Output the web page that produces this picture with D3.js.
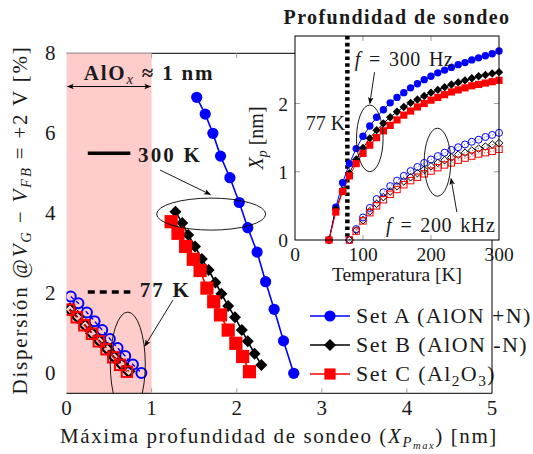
<!DOCTYPE html>
<html>
<head>
<meta charset="utf-8">
<script src="https://cdn.jsdelivr.net/npm/d3@7"></script>
<style>
  body { margin: 0; background: #fff; }
  text { font-family: "Liberation Serif", serif; fill: #1a1a1a; }
</style>
</head>
<body>
<div id="chart"></div>
<script>
// main plot: x = max probing depth [nm], y = dispersion [%]
var setA300 = [[1.53,6.90],[1.63,6.48],[1.72,6.00],[1.81,5.43],[1.92,4.89],[2.03,4.27],[2.13,3.64],[2.24,3.03],[2.34,2.29],[2.44,1.60],[2.55,0.81],[2.67,0.00]];
var setB300 = [[1.28,4.04],[1.36,3.76],[1.43,3.46],[1.51,3.17],[1.59,2.86],[1.67,2.58],[1.75,2.27],[1.82,1.99],[1.90,1.68],[1.98,1.40],[2.06,1.08],[2.13,0.80],[2.21,0.49],[2.29,0.21]];
var setC300 = [[1.23,3.79],[1.31,3.50],[1.40,3.17],[1.49,2.85],[1.57,2.57],[1.65,2.13],[1.73,1.79],[1.81,1.46],[1.90,1.08],[1.99,0.75],[2.07,0.42],[2.15,0.04]];
var setA77 = [[0.05,1.92],[0.14,1.75],[0.24,1.52],[0.33,1.30],[0.42,1.08],[0.51,0.86],[0.60,0.63],[0.69,0.43],[0.78,0.22],[0.88,0.01]];
var setB77 = [[0.04,1.60],[0.13,1.41],[0.22,1.20],[0.30,1.00],[0.39,0.81],[0.48,0.61],[0.56,0.41],[0.65,0.22],[0.73,0.05]];
var setC77 = [[0.03,1.59],[0.12,1.40],[0.21,1.20],[0.30,0.99],[0.38,0.80],[0.47,0.60],[0.55,0.40],[0.63,0.21],[0.71,0.04]];
var xTicks = [0, 1, 2, 3, 4, 5];
var yTicks = [0, 2, 4, 6, 8];

// inset: probing depth vs temperature
var tempsLow = [50,60,70,80,90,100,110,120,130,140,150,160,170,180,190,200,210,220,230,240,250,260,270,280,290,300];
var setA300Hz = [0,0.48,0.84,1.12,1.34,1.52,1.67,1.80,1.91,2.01,2.09,2.16,2.23,2.29,2.35,2.40,2.45,2.49,2.53,2.57,2.60,2.64,2.67,2.70,2.73,2.77];
var setB300Hz = [0,0.45,0.72,0.98,1.18,1.35,1.49,1.61,1.71,1.80,1.88,1.95,2.01,2.06,2.11,2.16,2.20,2.24,2.28,2.31,2.34,2.37,2.40,2.42,2.44,2.46];
var setC300Hz = [0,0.41,0.71,0.94,1.12,1.27,1.39,1.50,1.60,1.68,1.76,1.83,1.89,1.95,2.00,2.05,2.09,2.13,2.17,2.20,2.23,2.26,2.28,2.30,2.32,2.34];
var tempsHigh = [80,90,100,110,120,130,140,150,160,170,180,190,200,210,220,230,240,250,260,270,280,290,300];
var setA200k = [0,0.16,0.33,0.47,0.60,0.70,0.79,0.87,0.94,1.01,1.07,1.13,1.18,1.23,1.28,1.32,1.36,1.40,1.44,1.47,1.51,1.54,1.57];
var setB200k = [0,0.14,0.29,0.42,0.53,0.63,0.71,0.79,0.86,0.92,0.98,1.03,1.08,1.13,1.17,1.21,1.25,1.28,1.31,1.34,1.37,1.40,1.42];
var setC200k = [0,0.13,0.28,0.40,0.50,0.59,0.67,0.74,0.81,0.87,0.92,0.97,1.01,1.06,1.10,1.13,1.17,1.20,1.23,1.26,1.28,1.30,1.33];
var insetXTicks = [0, 100, 200, 300];
var insetYTicks = [0, 1, 2];

var BLUE = "#0000ff", RED = "#ff0000", BLACK = "#000", PINK = "#ffcccc", GREY = "#a0a0a0";

var svg = d3.select("#chart").append("svg")
    .attr("width", 533).attr("height", 454);

var defs = svg.append("defs");
defs.append("marker").attr("id", "arr")
    .attr("viewBox", "0 0 10 10").attr("refX", 9).attr("refY", 5)
    .attr("markerWidth", 7).attr("markerHeight", 7).attr("orient", "auto-start-reverse")
    .attr("markerUnits", "userSpaceOnUse")
  .append("path").attr("d", "M0,1 L10,5 L0,9 L2.5,5 Z").attr("fill", "#000");

// writes text made of parts: {t, i (italic), b (bold), sub}
function rich(sel, parts) {
  parts.forEach(function(p) {
    var ts = sel.append("tspan").text(p.t);
    if (p.i) ts.style("font-style", "italic");
    if (p.b) ts.style("font-weight", "bold");
    if (p.sub) ts.attr("dy", p.sub).style("font-size", p.fs || "0.7em");
    if (p.up) ts.attr("dy", p.up);
  });
  return sel;
}

// Liberation Serif is narrower than the TeX font, so widen a little
function spaced(sel, ls, ws) {
  return sel.style("letter-spacing", ls + "px").style("word-spacing", (ws || 0) + "px");
}

function diamond(r) { return "M0," + (-r) + "L" + r + ",0L0," + r + "L" + (-r) + ",0Z"; }

function drawMarkers(g, data, sx, sy, kind, size, fill, stroke, sw) {
  var sel = g.append("g").selectAll("m").data(data).enter();
  if (kind === "circle") {
    sel.append("circle")
      .attr("cx", function(d) { return sx(d[0]); })
      .attr("cy", function(d) { return sy(d[1]); })
      .attr("r", size).attr("fill", fill).attr("stroke", stroke).attr("stroke-width", sw);
  } else if (kind === "square") {
    sel.append("rect")
      .attr("x", function(d) { return sx(d[0]) - size; })
      .attr("y", function(d) { return sy(d[1]) - size; })
      .attr("width", 2 * size).attr("height", 2 * size)
      .attr("fill", fill).attr("stroke", stroke).attr("stroke-width", sw);
  } else {
    sel.append("path")
      .attr("transform", function(d) { return "translate(" + sx(d[0]) + "," + sy(d[1]) + ")"; })
      .attr("d", diamond(size)).attr("fill", fill).attr("stroke", stroke).attr("stroke-width", sw);
  }
}

function drawLine(g, data, sx, sy, color, w, dash) {
  g.append("path").datum(data)
    .attr("d", d3.line().x(function(d) { return sx(d[0]); }).y(function(d) { return sy(d[1]); }))
    .attr("fill", "none").attr("stroke", color).attr("stroke-width", w)
    .attr("stroke-dasharray", dash || null);
}

// ---------------- main plot ----------------
var margin = {top: 53.3, left: 66.5},
    width = 425.5,
    height = 340;

var x = d3.scaleLinear().domain([0, 5]).range([0, width]);
var y = d3.scaleLinear().domain([-0.5, 8]).range([height, 0]);

var g = svg.append("g").attr("transform", "translate(" + margin.left + "," + margin.top + ")");

defs.append("clipPath").attr("id", "mainclip")
  .append("rect").attr("x", 0).attr("y", 0).attr("width", width).attr("height", height);

// frame
g.append("line").attr("x1", 0).attr("x2", width).attr("y1", 0).attr("y2", 0).attr("stroke", "#000").attr("stroke-width", 1);
g.append("line").attr("x1", width).attr("x2", width).attr("y1", 0).attr("y2", height).attr("stroke", "#000").attr("stroke-width", 1);

// AlOx band
g.append("rect").attr("x", x(0)).attr("y", 0).attr("width", x(1) - x(0)).attr("height", height).attr("fill", PINK);

g.append("line").attr("x1", 0).attr("x2", width).attr("y1", height).attr("y2", height).attr("stroke", "#000").attr("stroke-width", 1);

// grey ticks
xTicks.slice(1, -1).forEach(function(t) {
  g.append("line").attr("x1", x(t)).attr("x2", x(t)).attr("y1", height).attr("y2", height - 5).attr("stroke", GREY);
  g.append("line").attr("x1", x(t)).attr("x2", x(t)).attr("y1", 0).attr("y2", 5).attr("stroke", GREY);
});

// tick labels
g.selectAll(".xt").data(xTicks).enter().append("text")
  .attr("x", function(d) { return x(d); }).attr("y", height + 22)
  .attr("text-anchor", "middle").style("font-size", "21px").text(function(d) { return d; });
g.selectAll(".yt").data(yTicks).enter().append("text")
  .attr("x", -11).attr("y", function(d) { return y(d) + 7; })
  .attr("text-anchor", "end").style("font-size", "21px").text(function(d) { return d; });

// axis labels
rich(spaced(svg.append("text").attr("x", 279).attr("y", 443).attr("text-anchor", "middle").style("font-size", "21px"), 1.6),
  [{t: "Máxima profundidad de sondeo ("}, {t: "X", i: 1}, {t: "P", i: 1, sub: 4}, {t: "max", i: 1, sub: 2, fs: "0.5em"},
   {t: ") [nm]", up: -6}]);
rich(spaced(svg.append("text").attr("transform", "translate(27,220) rotate(-90)").attr("text-anchor", "middle").style("font-size", "21px"), 1.8),
  [{t: "Dispersión @"}, {t: "V", i: 1}, {t: "G", i: 1, sub: 4}, {t: " − ", up: -4}, {t: "V", i: 1}, {t: "FB", i: 1, sub: 4},
   {t: " = +2 V [%]", up: -4}]);

var plot = g.append("g").attr("clip-path", "url(#mainclip)");

// series
drawLine(plot, setA300, x, y, BLUE, 1.6);
drawLine(plot, setB300, x, y, BLACK, 1.6);
drawLine(plot, setC300, x, y, RED, 1.6);
drawLine(plot, setA77, x, y, BLUE, 1.4, "4,3");
drawLine(plot, setB77, x, y, BLACK, 1.4, "4,3");
drawLine(plot, setC77, x, y, RED, 1.4, "4,3");
drawMarkers(plot, setA300, x, y, "circle", 5.6, BLUE, "none", 0);
drawMarkers(plot, setB300, x, y, "diamond", 6, BLACK, "none", 0);
drawMarkers(plot, setC300, x, y, "square", 6.6, RED, "none", 0);
drawMarkers(plot, setA77, x, y, "circle", 5, "none", BLUE, 2);
drawMarkers(plot, setB77, x, y, "diamond", 5.5, "none", BLACK, 2.2);
drawMarkers(plot, setC77, x, y, "square", 5.2, "none", RED, 2);

// annotations
rich(spaced(g.append("text").attr("x", x(0.97)).attr("y", y(7.5) + 7).attr("text-anchor", "middle").style("font-size", "21px"), 1.8),
  [{t: "AlO", b: 1}, {t: "x", i: 1, sub: 4}, {t: " ≈ 1 ", b: 1, up: -4}, {t: "nm", b: 1}]);
g.append("line").attr("x1", x(0) + 1).attr("x2", x(1) - 1).attr("y1", y(7.17)).attr("y2", y(7.17))
  .attr("stroke", "#000").attr("stroke-width", 1)
  .attr("marker-start", "url(#arr)").attr("marker-end", "url(#arr)");

g.append("line").attr("x1", x(0.25)).attr("x2", x(0.75)).attr("y1", y(5.5)).attr("y2", y(5.5))
  .attr("stroke", "#000").attr("stroke-width", 3.5);
spaced(g.append("text").attr("x", x(0.84)).attr("y", y(5.46) + 7).style("font-size", "21px").style("font-weight", "bold"), 2.2)
  .text("300 K");
g.append("line").attr("x1", x(0.25)).attr("x2", x(0.75)).attr("y1", y(2.03)).attr("y2", y(2.03))
  .attr("stroke", "#000").attr("stroke-width", 3.5).attr("stroke-dasharray", "7,5");
spaced(g.append("text").attr("x", x(0.86)).attr("y", y(2.08) + 7).style("font-size", "21px").style("font-weight", "bold"), 2.2)
  .text("77 K");

g.append("ellipse").attr("cx", x(1.70)).attr("cy", y(3.98)).attr("rx", 54.5).attr("ry", 16)
  .attr("fill", "none").attr("stroke", "#000").attr("stroke-width", 0.9);
g.append("line").attr("x1", x(1.10)).attr("y1", y(5.08)).attr("x2", x(1.69)).attr("y2", y(4.47))
  .attr("stroke", "#000").attr("stroke-width", 0.9).attr("marker-end", "url(#arr)");
plot.append("ellipse").attr("cx", x(0.72)).attr("cy", y(0.23)).attr("rx", 17.5).attr("ry", 52)
  .attr("fill", "none").attr("stroke", "#000").attr("stroke-width", 0.9);
g.append("line").attr("x1", x(1.25)).attr("y1", y(1.83)).attr("x2", x(0.92)).attr("y2", y(0.68))
  .attr("stroke", "#000").attr("stroke-width", 0.9).attr("marker-end", "url(#arr)");

// legend
var legend = [
  {label: [{t: "Set A (AlON +N)"}], color: BLUE, kind: "circle", size: 5.6},
  {label: [{t: "Set B (AlON -N)"}], color: BLACK, kind: "diamond", size: 6},
  {label: [{t: "Set C (Al"}, {t: "2", sub: 5}, {t: "O", up: -5}, {t: "3", sub: 5}, {t: ")", up: -5}], color: RED, kind: "square", size: 5.6}
];
var lg = svg.append("g").attr("transform", "translate(310,316)");
legend.forEach(function(e, i) {
  var row = lg.append("g").attr("transform", "translate(0," + (i * 29) + ")");
  row.append("line").attr("x1", 0).attr("x2", 40).attr("stroke", e.color).attr("stroke-width", 1.6);
  drawMarkers(row, [[20, 0]], function(v) { return v; }, function(v) { return v; }, e.kind, e.size, e.color, "none", 0);
  rich(spaced(row.append("text").attr("x", 46).attr("y", 7).style("font-size", "22px"), 1.4), e.label);
});

// ---------------- inset ----------------
var inset = {left: 295, top: 36, width: 204, height: 204};
var xi = d3.scaleLinear().domain([0, 300]).range([0, inset.width]);
var yi = d3.scaleLinear().domain([0, 2.99]).range([inset.height, 0]);
var gi = svg.append("g").attr("transform", "translate(" + inset.left + "," + inset.top + ")");

gi.append("rect").attr("width", inset.width).attr("height", inset.height).attr("fill", "#fff");

insetXTicks.slice(1, -1).forEach(function(t) {
  gi.append("line").attr("x1", xi(t)).attr("x2", xi(t)).attr("y1", inset.height).attr("y2", inset.height - 5).attr("stroke", GREY);
  gi.append("line").attr("x1", xi(t)).attr("x2", xi(t)).attr("y1", 0).attr("y2", 5).attr("stroke", GREY);
});
insetYTicks.slice(1).forEach(function(t) {
  gi.append("line").attr("x1", 0).attr("x2", 5).attr("y1", yi(t)).attr("y2", yi(t)).attr("stroke", GREY);
  gi.append("line").attr("x1", inset.width).attr("x2", inset.width - 5).attr("y1", yi(t)).attr("y2", yi(t)).attr("stroke", GREY);
});

gi.selectAll(".ixt").data(insetXTicks).enter().append("text")
  .attr("x", function(d) { return xi(d); }).attr("y", inset.height + 21)
  .attr("text-anchor", "middle").style("font-size", "19.5px").text(function(d) { return d; });
gi.selectAll(".iyt").data(insetYTicks).enter().append("text")
  .attr("x", -7).attr("y", function(d) { return yi(d) + 7; })
  .attr("text-anchor", "end").style("font-size", "19.5px").text(function(d) { return d; });

gi.append("text").attr("x", inset.width / 2).attr("y", inset.height + 41).attr("text-anchor", "middle")
  .style("font-size", "19.5px").text("Temperatura [K]");
rich(gi.append("text").attr("transform", "translate(-32," + (inset.height / 2) + ") rotate(-90)")
  .attr("text-anchor", "middle").style("font-size", "20px"),
  [{t: "X", i: 1}, {t: "p", i: 1, sub: 4}, {t: " [nm]", up: -4}]);
spaced(gi.append("text").attr("x", inset.width / 2).attr("y", -12).attr("text-anchor", "middle")
  .style("font-size", "20px").style("font-weight", "bold"), 1.4).text("Profundidad de sondeo");

function pairs(ts, vs) { return ts.map(function(t, i) { return [t, vs[i]]; }); }

// 77 K marker line
gi.append("line").attr("x1", xi(77)).attr("x2", xi(77)).attr("y1", 0).attr("y2", inset.height)
  .attr("stroke", "#000").attr("stroke-width", 4.5).attr("stroke-dasharray", "3.6,3.2");
gi.append("text").attr("x", xi(74)).attr("y", yi(1.71) + 7).attr("text-anchor", "end").style("font-size", "20px").text("77 K");

var hiA = pairs(tempsLow, setA300Hz), hiB = pairs(tempsLow, setB300Hz), hiC = pairs(tempsLow, setC300Hz);
var hfA = pairs(tempsHigh, setA200k), hfB = pairs(tempsHigh, setB200k), hfC = pairs(tempsHigh, setC200k);

drawLine(gi, hiA, xi, yi, BLUE, 1);
drawLine(gi, hiB, xi, yi, BLACK, 1);
drawLine(gi, hiC, xi, yi, RED, 1);
drawMarkers(gi, hiA, xi, yi, "circle", 3.7, BLUE, "none", 0);
drawMarkers(gi, hiB, xi, yi, "diamond", 4.2, BLACK, "none", 0);
drawMarkers(gi, hiC, xi, yi, "square", 3.6, RED, "none", 0);

drawLine(gi, hfA, xi, yi, BLUE, 0.7, "1,2");
drawLine(gi, hfB, xi, yi, BLACK, 0.7, "1,2");
drawLine(gi, hfC, xi, yi, RED, 0.7, "1,2");
drawMarkers(gi, hfA, xi, yi, "circle", 3.5, "none", BLUE, 1);
drawMarkers(gi, hfB, xi, yi, "diamond", 3.8, "none", BLACK, 1);
drawMarkers(gi, hfC, xi, yi, "square", 3.2, "none", RED, 1);

// inset annotations
rich(spaced(gi.append("text").attr("x", xi(88)).attr("y", yi(2.66) + 7).style("font-size", "20px"), 0.6, 2.5),
  [{t: "f", i: 1}, {t: " = 300 Hz"}]);
gi.append("line").attr("x1", xi(117)).attr("y1", yi(2.46)).attr("x2", xi(110)).attr("y2", yi(2.0))
  .attr("stroke", "#000").attr("stroke-width", 0.9).attr("marker-end", "url(#arr)");
gi.append("ellipse").attr("cx", xi(110)).attr("cy", yi(1.49)).attr("rx", 13.3).attr("ry", 33.3)
  .attr("fill", "none").attr("stroke", "#000").attr("stroke-width", 0.9);
gi.append("ellipse").attr("cx", xi(209.5)).attr("cy", yi(1.14)).attr("rx", 13.3).attr("ry", 34)
  .attr("fill", "none").attr("stroke", "#000").attr("stroke-width", 0.9);
gi.append("line").attr("x1", xi(238)).attr("y1", yi(0.41)).attr("x2", xi(229.5)).attr("y2", yi(0.9))
  .attr("stroke", "#000").attr("stroke-width", 0.9).attr("marker-end", "url(#arr)");
rich(spaced(gi.append("text").attr("x", xi(134)).attr("y", yi(0.22) + 7).style("font-size", "20px"), 0.6, 2.5),
  [{t: "f", i: 1}, {t: " = 200 kHz"}]);

// frame on top
gi.append("rect").attr("width", inset.width).attr("height", inset.height)
  .attr("fill", "none").attr("stroke", "#000").attr("stroke-width", 1);
</script>
</body>
</html>
